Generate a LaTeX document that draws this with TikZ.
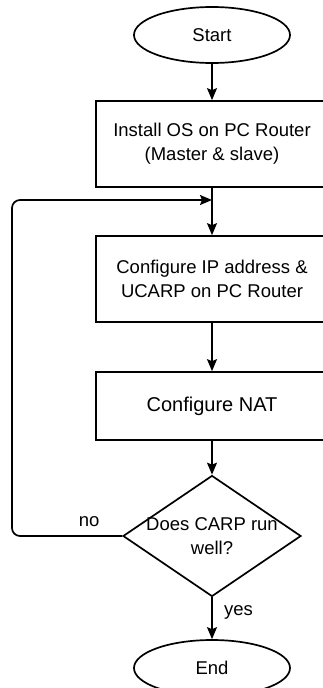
\documentclass[tikz,border=0pt]{standalone}
\usepackage{fontspec}
\setmainfont{Liberation Sans}
\usetikzlibrary{shapes.geometric, arrows.meta}

\begin{document}
\begin{tikzpicture}[x=1pt, y=-1pt, line width=1.7pt,
        font=\fontsize{18.5}{24}\selectfont,
        terminal/.style={draw, ellipse, minimum width=156pt, minimum height=56pt, inner sep=0pt},
        process/.style={draw, rectangle, minimum width=232pt, align=center, inner sep=0pt},
        decision/.style={draw, diamond, minimum width=178pt, minimum height=121pt, inner sep=0pt},
        flow/.style={-{Stealth[length=12pt, width=10pt, inset=2pt]}}]
        \useasboundingbox (0,0) rectangle (323,688);
        \clip (0,0) rectangle (323,688);

        \node[terminal] (start) at (212,35) {Start};
        \node[process, minimum height=86pt] (install) at (212,144) {Install OS on PC Router\\(Master \& slave)};
        \node[process, minimum height=86pt] (ipconf) at (212,279) {Configure IP address \&\\UCARP on PC Router};
        \node[process, minimum height=68pt, font=\fontsize{20}{24}\selectfont] (nat) at (212,406) {Configure NAT};
        \node[decision, label={[align=center]center:Does CARP run\\well?}] (carp) at (212,536) {};
        \node[terminal] (end) at (212,668) {End};
        \coordinate (merge) at (212,200);

        \draw[flow] (start) -- (install);
        \draw[flow] (install) -- (ipconf);
        \draw[flow] (ipconf) -- (nat);
        \draw[flow] (nat) -- (carp);
        \draw[flow] (carp) -- node[right=8pt, pos=.35] {yes} (end);
        \draw[flow, rounded corners=8pt] (carp.west) -- node[above=5pt, pos=.3] {no} (12,536) -- (12,200) -- (merge);
    \end{tikzpicture}
\end{document}
